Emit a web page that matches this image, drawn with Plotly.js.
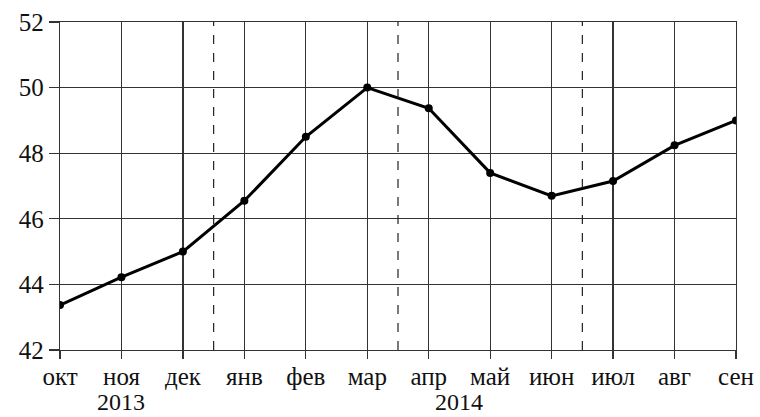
<!DOCTYPE html>
<html>
<head>
<meta charset="utf-8">
<script src="https://cdn.plot.ly/plotly-3.0.1.min.js"></script>
<style>html,body{margin:0;padding:0;background:#fff;}#chart{width:760px;height:417px;}</style>
</head>
<body>
<div id="chart"></div>
<script>
var months = ["окт","ноя","дек","янв","фев","мар","апр","май","июн","июл","авг","сен"];
var values = [43.37, 44.22, 45.0, 46.55, 48.5, 50.0, 49.37, 47.4, 46.7, 47.15, 48.24, 49.0];
var yTicks = [42, 44, 46, 48, 50, 52];
var quarterBreaks = [2.5, 5.5, 8.5];
var years = ["2013", "2014"];
var yearPos = [1, 6.5];

var idx = months.map(function(_, i){ return i; });
var font = "Liberation Serif";

var shapes = quarterBreaks.map(function(b){
  return {type:"line", xref:"x", yref:"y", x0:b, x1:b, y0:yTicks[0], y1:yTicks[yTicks.length-1],
          line:{color:"#222", width:1.2, dash:"dash"}};
});
var annotations = years.map(function(t, i){
  return {text:t, x:yearPos[i], xref:"x", y:-0.2, yref:"paper", yanchor:"bottom", borderpad:0, showarrow:false,
          font:{family:font, size:24, color:"#111"}};
});

var trace = {x: idx, y: values, type:"scatter", mode:"lines+markers",
  line:{color:"#000", width:3}, marker:{color:"#000", size:8}, hoverinfo:"skip"};

var layout = {
  width:760, height:417,
  margin:{l:60, r:24, t:22, b:67},
  paper_bgcolor:"#fff", plot_bgcolor:"#fff",
  font:{family:font},
  showlegend:false,
  xaxis:{range:[0, 11], tickvals: idx, ticktext: months, showgrid:true, gridcolor:"#333", gridwidth:1.2,
    zeroline:false, showline:true, mirror:true, linecolor:"#333", linewidth:1.2,
    ticks:"outside", ticklen:8, tickcolor:"#333", tickwidth:1.2, ticklabelstandoff:-4,
    tickfont:{family:font, size:25, color:"#111"}, fixedrange:true},
  yaxis:{range:[42, 52], tickvals: yTicks, showgrid:true, gridcolor:"#333", gridwidth:1.2,
    zeroline:false, showline:true, mirror:true, linecolor:"#333", linewidth:1.2,
    ticks:"outside", ticklen:10, tickcolor:"#333", tickwidth:1.2,
    tickfont:{family:font, size:25, color:"#111"}, fixedrange:true},
  shapes: shapes,
  annotations: annotations
};
Plotly.newPlot("chart", [trace], layout, {displayModeBar:false, staticPlot:true});
</script>
</body>
</html>
